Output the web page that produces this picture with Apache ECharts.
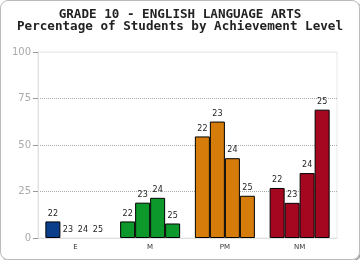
<!DOCTYPE html>
<html>
<head>
<meta charset="utf-8">
<script src="https://cdn.jsdelivr.net/npm/echarts@6/dist/echarts.min.js"></script>
<style>
  html, body { margin: 0; padding: 0; background: #fff; }
  #chart {
    width: 360px; height: 260px; box-sizing: border-box;
    border: 1px solid #bbb; border-radius: 8px;
    box-shadow: 1px 1px 0 #999;
  }
</style>
</head>
<body>
<div id="chart"></div>
<script>
const categories = ['E', 'M', 'PM', 'NM'];
const years = ['22', '23', '24', '25'];
const yTicks = [0, 25, 50, 75, 100];
const levelColors = ['#0b3f8c', '#0c982a', '#d67c0a', '#a4071f'];
// one array per year, values per level
const y22 = [8.9, 8.9, 54.6, 26.9];
const y23 = [0, 19.0, 62.6, 18.9];
const y24 = [0, 21.6, 42.9, 34.9];
const y25 = [0, 7.8, 22.7, 69.0];
const yearValues = [y22, y23, y24, y25];

const chart = echarts.init(document.getElementById('chart'));

const series = years.map((yr, i) => ({
    name: yr,
    type: 'bar',
    barWidth: 15,
    barGap: '0%',
    data: yearValues[i].map((v, j) => ({
        value: v,
        itemStyle: { color: levelColors[j], borderWidth: v === 0 ? 0 : 1 }
    })),
    itemStyle: { borderColor: '#000', borderWidth: 1 },
    label: {
        show: true,
        position: 'top',
        distance: 4,
        formatter: '{a}',
        fontFamily: 'DejaVu Sans',
        fontSize: 8,
        color: '#222'
    },
    animation: false
}));

chart.setOption({
    animation: false,
    title: {
        text: 'GRADE 10 - ENGLISH LANGUAGE ARTS\nPercentage of Students by Achievement Level',
        left: 'center',
        top: 3,
        textStyle: {
            fontFamily: 'DejaVu Sans Mono',
            fontSize: 12.6,
            fontWeight: 'bold',
            lineHeight: 12,
            color: '#222'
        }
    },
    grid: {
        left: 37,
        right: 22,
        top: 51,
        bottom: 21,
        show: true,
        borderColor: '#e8e8e8',
        borderWidth: 1
    },
    xAxis: {
        type: 'category',
        data: categories,
        axisLine: { lineStyle: { color: '#e0e0e0' } },
        axisTick: { show: false },
        axisLabel: { fontFamily: 'DejaVu Sans', fontSize: 7, color: '#333', margin: 6 }
    },
    yAxis: {
        type: 'value',
        min: yTicks[0],
        max: yTicks[yTicks.length - 1],
        interval: 25,
        axisLine: { show: true, lineStyle: { color: '#e0e0e0' } },
        axisTick: { show: true, length: 5, lineStyle: { color: '#999' } },
        axisLabel: { fontFamily: 'DejaVu Sans', fontSize: 10, color: '#aaa', margin: 7 },
        splitLine: {
            lineStyle: {
                type: 'dotted',
                color: ['rgba(0,0,0,0)', '#aaa', '#aaa', '#aaa', '#e8e8e8']
            }
        }
    },
    series: series
});
</script>
</body>
</html>
